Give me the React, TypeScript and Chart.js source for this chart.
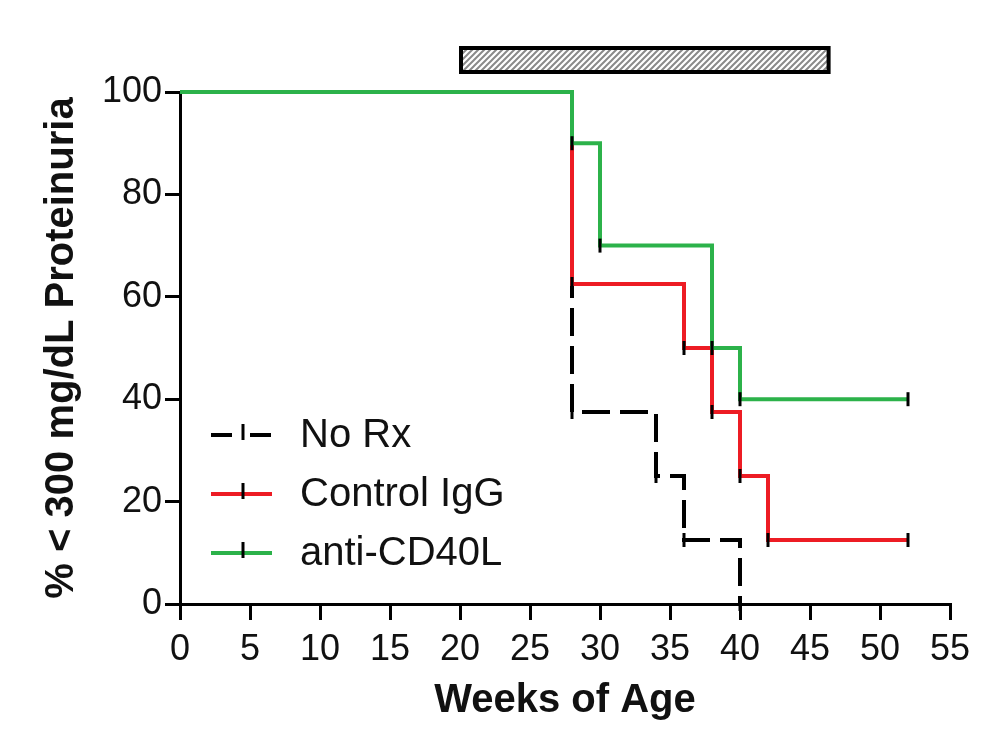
import React, { useEffect, useRef } from "react";
import { Chart, registerables } from "chart.js";

Chart.register(...registerables);

// ---- data ----
const seriesNames = ["No Rx", "Control IgG", "anti-CD40L"];
const weeksNoRx = [0, 28, 34, 36, 40];
const pctNoRx = [100, 37.5, 25, 12.5, 0];
const weeksIgG = [0, 28, 36, 38, 40, 42, 52];
const pctIgG = [100, 62.5, 50, 37.5, 25, 12.5, 12.5];
const weeksCD40L = [0, 28, 30, 38, 40, 52];
const pctCD40L = [100, 90, 70, 50, 40, 40];
const xTickValues = [0, 5, 10, 15, 20, 25, 30, 35, 40, 45, 50, 55];
const yTickValues = [0, 20, 40, 60, 80, 100];
const treatmentWeeks = [20, 46.4];

const xTitle = "Weeks of Age";
const yTitle = "% < 300 mg/dL Proteinuria";

// ---- styles ----
const colBlack = "#000000";
const colRed = "rgb(237,28,36)";
const colGreen = "rgb(44,178,74)";
const seriesColors = [colBlack, colRed, colGreen];
const seriesDash = [[28, 10], [], []];
const textColor = "#111111";
const tickFont = "'Liberation Sans Narrow', 'Arial Narrow', Arial, sans-serif";
const mainFont = "Arial, 'Liberation Sans', sans-serif";

const toPoints = (xs: number[], ys: number[]) => xs.map((x, i) => ({ x, y: ys[i] }));
const radii = (xs: number[]) => xs.map((_, i) => (i === 0 ? 0 : 7));

const makeHatch = (ctx: CanvasRenderingContext2D) => {
  const c = document.createElement("canvas");
  c.width = 6;
  c.height = 6;
  const g = c.getContext("2d")!;
  g.fillStyle = "#ffffff";
  g.fillRect(0, 0, 6, 6);
  g.strokeStyle = "#8a8a8a";
  g.lineWidth = 2;
  g.beginPath();
  g.moveTo(-1, 7);
  g.lineTo(7, -1);
  g.moveTo(-4, 4);
  g.lineTo(4, -4);
  g.moveTo(2, 10);
  g.lineTo(10, 2);
  g.stroke();
  return ctx.createPattern(c, "repeat");
};

const decorPlugin = {
  id: "decor",
  afterDraw(chart: any) {
    const ctx: CanvasRenderingContext2D = chart.ctx;
    const xs = chart.scales.x;
    // treatment bar
    const x0 = xs.getPixelForValue(treatmentWeeks[0]);
    const x1 = xs.getPixelForValue(treatmentWeeks[1]);
    const top = 47;
    const h = 26;
    ctx.save();
    const pat = makeHatch(ctx);
    if (pat) {
      ctx.fillStyle = pat;
      ctx.fillRect(x0, top, x1 - x0, h);
    }
    ctx.lineWidth = 4;
    ctx.strokeStyle = "#000";
    ctx.strokeRect(x0 + 1, top + 1, x1 - x0 - 2, h - 2);
    ctx.restore();

    // legend
    const lx0 = 211;
    const lx1 = 272;
    const ly0 = 435;
    const step = 59;
    ctx.save();
    seriesNames.forEach((name, i) => {
      const y = ly0 + i * step;
      ctx.beginPath();
      ctx.setLineDash(i === 0 ? [21, 18] : []);
      ctx.lineWidth = 4;
      ctx.strokeStyle = seriesColors[i];
      ctx.moveTo(lx0, y);
      ctx.lineTo(lx1, y);
      ctx.stroke();
      ctx.setLineDash([]);
      ctx.beginPath();
      ctx.lineWidth = 3;
      ctx.strokeStyle = "#000";
      ctx.moveTo(243, y - 11);
      ctx.lineTo(243, y + 5);
      ctx.stroke();
      ctx.fillStyle = textColor;
      ctx.font = `normal 40px ${mainFont}`;
      ctx.textBaseline = "middle";
      ctx.textAlign = "left";
      ctx.fillText(name, 300, y + 1);
    });
    ctx.restore();
  },
};

export default function App() {
  const ref = useRef<HTMLCanvasElement | null>(null);
  useEffect(() => {
    if (!ref.current) return;
    const mk = (i: number, xs: number[], ys: number[], order: number) => ({
      label: seriesNames[i],
      data: toPoints(xs, ys),
      borderColor: seriesColors[i],
      backgroundColor: seriesColors[i],
      borderWidth: 4,
      borderDash: seriesDash[i],
      stepped: true,
      fill: false,
      clip: false as any,
      pointStyle: "line",
      rotation: 90,
      pointRadius: radii(xs),
      pointHoverRadius: radii(xs),
      pointBorderColor: "#000",
      pointBorderWidth: 3,
      order,
    });
    const chart = new Chart(ref.current, {
      type: "line",
      data: {
        datasets: [
          mk(0, weeksNoRx, pctNoRx, 3),
          mk(1, weeksIgG, pctIgG, 2),
          mk(2, weeksCD40L, pctCD40L, 1),
        ] as any,
      },
      options: {
        animation: false,
        responsive: true,
        maintainAspectRatio: false,
        devicePixelRatio: 1,
        events: [],
        layout: { padding: { left: 0, right: 56, top: 92, bottom: 0 } },
        plugins: { legend: { display: false }, tooltip: { enabled: false } },
        scales: {
          x: {
            type: "linear",
            min: 0,
            max: 55,
            afterBuildTicks: (s: any) => {
              s.ticks = xTickValues.map((v) => ({ value: v }));
            },
            afterFit: (s: any) => {
              s.height = 150;
            },
            grid: {
              drawOnChartArea: false,
              drawTicks: true,
              tickLength: 16,
              tickWidth: 3,
              tickColor: "#000",
              lineWidth: 3,
            },
            border: { display: true, color: "#000", width: 3 },
            ticks: {
              font: { family: tickFont, size: 36 },
              color: textColor,
              padding: 8,
              maxRotation: 0,
              autoSkip: false,
            },
            title: {
              display: true,
              text: xTitle,
              color: textColor,
              font: { family: mainFont, size: 40, weight: "bold" },
              padding: { top: 0, bottom: 29 },
            },
          },
          y: {
            type: "linear",
            min: 0,
            max: 100,
            afterBuildTicks: (s: any) => {
              s.ticks = yTickValues.map((v) => ({ value: v }));
            },
            afterFit: (s: any) => {
              s.width = 180;
            },
            grid: {
              drawOnChartArea: false,
              drawTicks: true,
              tickLength: 15,
              tickWidth: 3,
              tickColor: "#000",
              lineWidth: 3,
            },
            border: { display: true, color: "#000", width: 3 },
            ticks: {
              font: { family: tickFont, size: 36 },
              color: textColor,
              padding: 3,
              autoSkip: false,
            },
            title: {
              display: true,
              text: yTitle,
              color: textColor,
              font: { family: mainFont, size: 40, weight: "bold" },
              padding: { top: 38, bottom: 0 },
            },
          },
        },
      },
      plugins: [decorPlugin],
    });
    return () => chart.destroy();
  }, []);
  return (
    <div style={{ position: "absolute", left: 0, top: 0, width: 1006, height: 754, background: "#fff" }}>
      <canvas ref={ref} />
    </div>
  );
}
